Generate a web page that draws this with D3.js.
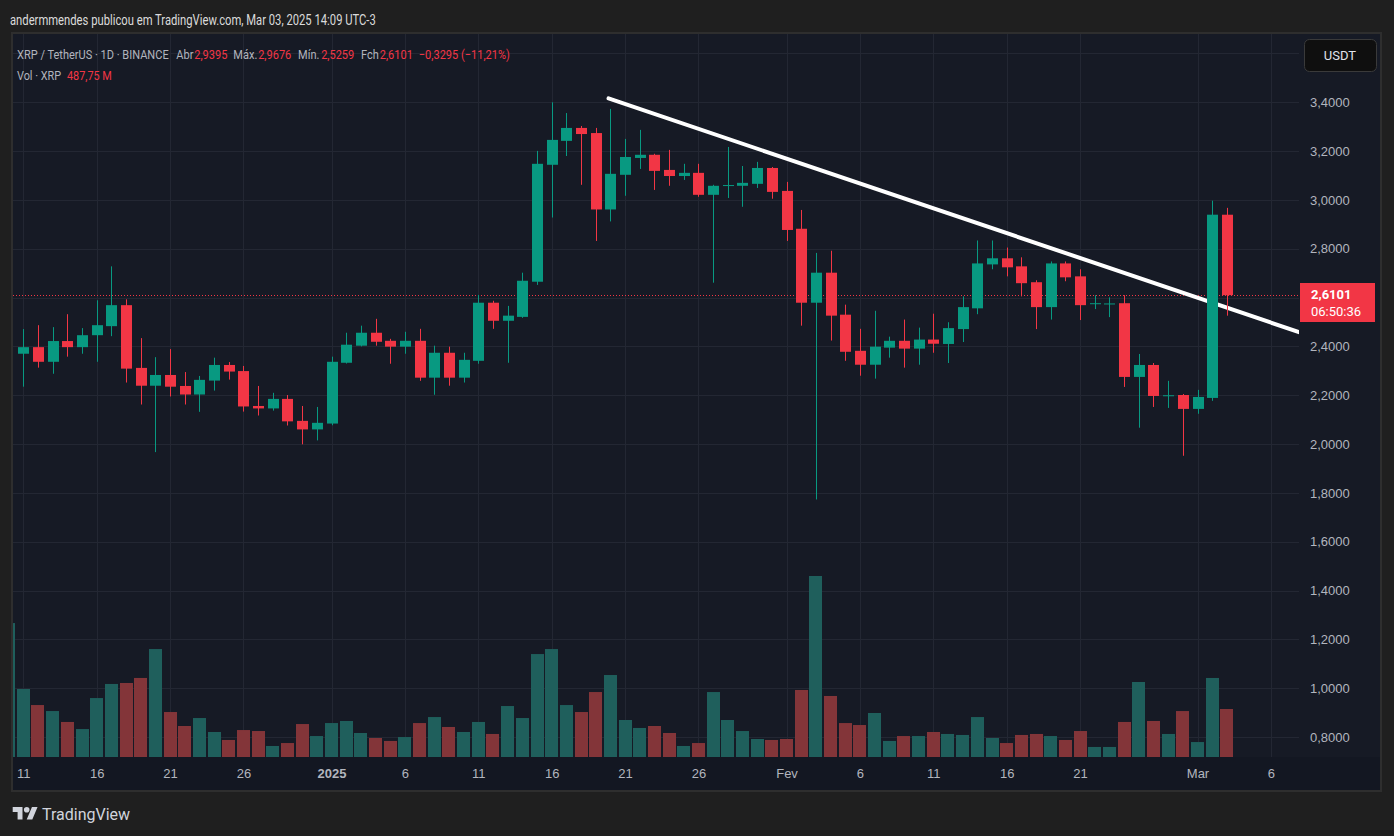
<!DOCTYPE html>
<html>
<head>
<meta charset="utf-8">
<script src="https://cdn.jsdelivr.net/npm/d3@7"></script>
<style>
  html, body { margin: 0; padding: 0; background: #1f1f1f; }
  svg { display: block; font-family: Roboto, "Liberation Sans", sans-serif; }
</style>
</head>
<body>
<svg id="chart" width="1394" height="836"></svg>
<script>
// XRP / TetherUS 1D BINANCE, Dec 10 2024 -> Mar 3 2025
const firstDay = '2024-12-10';
const lastDay = '2025-03-03';

const open = [2.185, 2.370, 2.397, 2.337, 2.422, 2.397, 2.446, 2.483, 2.569, 2.312, 2.239, 2.283, 2.238, 2.203, 2.260, 2.324, 2.299, 2.156, 2.146, 2.185, 2.095, 2.060,
  2.084, 2.333, 2.403, 2.456, 2.423, 2.399, 2.423, 2.272, 2.374, 2.272, 2.341, 2.579, 2.505, 2.521, 2.665, 3.144, 3.242, 3.295, 3.274, 2.961, 3.103, 3.172, 3.185, 3.123, 3.098, 3.111, 3.021, 3.058, 3.058, 3.066, 3.131,
  3.037, 2.882, 2.579, 2.702, 2.530, 2.382, 2.325, 2.395, 2.423, 2.391, 2.428, 2.410, 2.471, 2.556, 2.736, 2.761, 2.728, 2.663, 2.561, 2.740, 2.687, 2.575, 2.574, 2.577, 2.275, 2.324, 2.198, 2.201,
  2.144, 2.189, 2.9395];
const high = [2.440, 2.471, 2.487, 2.479, 2.532, 2.475, 2.589, 2.728, 2.593, 2.434, 2.356, 2.389, 2.295, 2.279, 2.354, 2.336, 2.320, 2.238, 2.210, 2.201, 2.156, 2.152,
  2.358, 2.456, 2.485, 2.513, 2.431, 2.460, 2.472, 2.403, 2.399, 2.374, 2.611, 2.587, 2.566, 2.702, 3.201, 3.400, 3.356, 3.303, 3.295, 3.373, 3.250, 3.287, 3.189, 3.205, 3.148, 3.148, 3.062, 3.217, 3.139, 3.156, 3.135,
  3.074, 2.959, 2.783, 2.792, 2.571, 2.472, 2.546, 2.440, 2.510, 2.477, 2.534, 2.499, 2.605, 2.834, 2.834, 2.805, 2.765, 2.671, 2.748, 2.748, 2.716, 2.610, 2.601, 2.610, 2.369, 2.332, 2.259, 2.205,
  2.222, 2.997, 2.9676];
const low = [2.070, 2.235, 2.313, 2.288, 2.358, 2.370, 2.337, 2.442, 2.252, 2.162, 1.967, 2.195, 2.162, 2.132, 2.219, 2.264, 2.133, 2.117, 2.137, 2.076, 1.999, 2.015,
  2.077, 2.330, 2.400, 2.403, 2.329, 2.370, 2.259, 2.202, 2.239, 2.252, 2.329, 2.472, 2.333, 2.517, 2.652, 2.928, 3.180, 3.062, 2.832, 2.912, 3.017, 3.127, 3.041, 3.058, 3.082, 3.013, 2.661, 3.008, 2.972, 3.049, 3.005,
  2.832, 2.485, 1.773, 2.424, 2.341, 2.280, 2.268, 2.354, 2.313, 2.325, 2.374, 2.332, 2.418, 2.532, 2.716, 2.687, 2.605, 2.471, 2.510, 2.667, 2.508, 2.553, 2.520, 2.234, 2.067, 2.152, 2.148, 1.952,
  2.124, 2.177, 2.5259];
const close = [2.370, 2.397, 2.337, 2.422, 2.397, 2.446, 2.487, 2.569, 2.309, 2.239, 2.283, 2.235, 2.203, 2.263, 2.324, 2.297, 2.154, 2.146, 2.185, 2.093, 2.060, 2.087,
  2.337, 2.407, 2.456, 2.419, 2.399, 2.423, 2.272, 2.374, 2.272, 2.345, 2.579, 2.505, 2.526, 2.669, 3.148, 3.246, 3.295, 3.270, 2.961, 3.107, 3.176, 3.185, 3.119, 3.098, 3.111, 3.021, 3.058, 3.061, 3.070, 3.131, 3.033,
  2.877, 2.579, 2.702, 2.526, 2.378, 2.325, 2.399, 2.423, 2.391, 2.428, 2.411, 2.475, 2.561, 2.740, 2.761, 2.724, 2.659, 2.561, 2.740, 2.683, 2.569, 2.577, 2.576, 2.275, 2.324, 2.197, 2.200, 2.144,
  2.193, 2.9396, 2.6101];
// volume in millions of XRP
const volume = [1361, 691, 528, 467, 356, 284, 599, 742, 752, 803, 1097, 457, 315, 396, 254, 173, 274, 264, 112, 142, 335, 213,
  345, 366, 244, 193, 163, 203, 345, 406, 305, 254, 356, 234, 518, 396, 1046, 1097, 528, 457, 660, 833, 376, 295, 315, 244, 112, 142, 660, 376, 264, 183, 173,
  183, 681, 1839, 620, 345, 325, 447, 163, 213, 213, 254, 234, 224, 406, 193, 142, 224, 234, 213, 173, 264, 102, 102, 356, 762, 366, 234, 467,
  152, 803, 487.75];

const xTickDates = ['2024-12-11', '2024-12-16', '2024-12-21', '2024-12-26', '2025-01-01', '2025-01-06', '2025-01-11', '2025-01-16', '2025-01-21', '2025-01-26',
  '2025-02-01', '2025-02-06', '2025-02-11', '2025-02-16', '2025-02-21', '2025-03-01', '2025-03-06'];
const xTickLabels = ['11', '16', '21', '26', '2025', '6', '11', '16', '21', '26', 'Fev', '6', '11', '16', '21', 'Mar', '6'];
const priceTicks = [3.4, 3.2, 3.0, 2.8, 2.6, 2.4, 2.2, 2.0, 1.8, 1.6, 1.4, 1.2, 1.0, 0.8];
const priceGrid = [3.6].concat(priceTicks);

// hand drawn trend line (two anchor points)
const trendDates = ['2025-01-19T21:00:00Z', '2025-03-08T00:00:00Z'];
const trendPrices = [3.416, 2.457];

const countdown = '06:50:36';

const GREEN = '#089981';
const RED = '#f23645';
const VOL_GREEN = '#1f5f5c';
const VOL_RED = '#833539';
const TEXT = '#b2b5be';
const GRID = '#232733';

const svg = d3.select('#chart');
const parseDay = d3.utcParse('%Y-%m-%d');
const pt = d3.formatLocale({decimal: ',', thousands: '.', grouping: [3], currency: ['', '']});
const f4 = pt.format('.4f');
const f2 = pt.format('.2f');

const plot = {left: 13, right: 1299, top: 34, bottom: 757};

const days = d3.utcDay.range(parseDay(firstDay), d3.utcDay.offset(parseDay(lastDay), 1));
const candles = days.map((d, i) => ({date: d, o: open[i], h: high[i], l: low[i], c: close[i], v: volume[i]}));

const x = d3.scaleUtc()
  .domain([parseDay('2024-12-11'), parseDay('2025-03-01')])
  .range([23.3, 1197.5]);
const y = d3.scaleLinear().domain([0.8, 3.4]).range([737, 102.3]);
const yVol = d3.scaleLinear().domain([0, d3.max(volume)]).range([plot.bottom, 576]);

// panel
svg.append('rect').attr('x', 0).attr('y', 0).attr('width', 1394).attr('height', 836).attr('fill', '#1f1f1f');
svg.append('rect')
  .attr('x', 12).attr('y', 33).attr('width', 1369).attr('height', 758)
  .attr('fill', '#161a25').attr('stroke', '#2e2e2e').attr('stroke-width', 2);
svg.append('rect')
  .attr('x', 13).attr('y', plot.bottom).attr('width', 1367).attr('height', 33)
  .attr('fill', '#131722');

const defs = svg.append('defs');
defs.append('clipPath').attr('id', 'plotClip')
  .append('rect')
  .attr('x', plot.left).attr('y', plot.top)
  .attr('width', plot.right - plot.left).attr('height', plot.bottom - plot.top);
defs.append('clipPath').attr('id', 'candleClip')
  .append('rect')
  .attr('x', plot.left + 2).attr('y', plot.top)
  .attr('width', plot.right - plot.left - 2).attr('height', plot.bottom - plot.top);

// grid
const grid = svg.append('g').attr('class', 'grid');
grid.selectAll('line.v')
  .data(xTickDates)
  .enter().append('line')
  .attr('class', 'v')
  .attr('x1', d => Math.round(x(parseDay(d))) + 0.5)
  .attr('x2', d => Math.round(x(parseDay(d))) + 0.5)
  .attr('y1', plot.top)
  .attr('y2', plot.bottom)
  .attr('stroke', GRID);
grid.selectAll('line.h')
  .data(priceGrid)
  .enter().append('line')
  .attr('class', 'h')
  .attr('x1', plot.left)
  .attr('x2', plot.right)
  .attr('y1', d => Math.round(y(d)) + 0.5)
  .attr('y2', d => Math.round(y(d)) + 0.5)
  .attr('stroke', GRID);

const chart = svg.append('g').attr('clip-path', 'url(#plotClip)');

// volume bars
chart.append('g').selectAll('rect')
  .data(candles)
  .enter().append('rect')
  .attr('x', d => Math.round(x(d.date) - 6.5))
  .attr('width', 13)
  .attr('y', d => yVol(d.v))
  .attr('height', d => plot.bottom - yVol(d.v))
  .attr('fill', d => d.c >= d.o ? VOL_GREEN : VOL_RED);

// candles
const cells = svg.append('g').attr('clip-path', 'url(#candleClip)')
  .selectAll('g')
  .data(candles)
  .enter().append('g');

cells.append('line')
  .attr('x1', d => Math.round(x(d.date)) + 0.5)
  .attr('x2', d => Math.round(x(d.date)) + 0.5)
  .attr('y1', d => y(d.h))
  .attr('y2', d => y(d.l))
  .attr('stroke', d => d.c >= d.o ? GREEN : RED)
  .attr('stroke-width', 1);

cells.append('rect')
  .attr('x', d => Math.round(x(d.date)) - 5)
  .attr('width', 11)
  .attr('y', d => y(Math.max(d.o, d.c)))
  .attr('height', d => Math.max(1, Math.abs(y(d.o) - y(d.c))))
  .attr('fill', d => d.c >= d.o ? GREEN : RED);

// last price dotted line
const last = candles[candles.length - 1];
const prev = candles[candles.length - 2];
const lastY = Math.round(y(last.c));
chart.append('line')
  .attr('x1', plot.left).attr('x2', plot.right)
  .attr('y1', lastY + 0.5).attr('y2', lastY + 0.5)
  .attr('stroke', RED)
  .attr('stroke-dasharray', '1 2');

// trend line
const trend = trendDates.map((d, i) => [x(d3.isoParse(d)), y(trendPrices[i])]);
chart.append('path')
  .attr('d', d3.line()(trend))
  .attr('fill', 'none')
  .attr('stroke', '#ffffff')
  .attr('stroke-width', 4)
  .attr('stroke-linecap', 'round');

// price axis (labels under the last price tag are hidden, as on the platform)
const yAxis = svg.append('g')
  .attr('transform', 'translate(' + plot.right + ',0)')
  .call(d3.axisRight(y)
    .tickValues(priceTicks.filter(p => Math.abs(y(p) - lastY) > 26))
    .tickSize(0).tickPadding(11).tickFormat(f4));
yAxis.select('.domain').remove();
yAxis.selectAll('text')
  .attr('fill', TEXT)
  .style('font-size', '13px');

// time axis
const xAxis = svg.append('g')
  .attr('transform', 'translate(0,' + plot.bottom + ')')
  .call(d3.axisBottom(x)
    .tickValues(xTickDates.map(parseDay))
    .tickSize(0)
    .tickPadding(12)
    .tickFormat((d, i) => xTickLabels[i]));
xAxis.select('.domain').remove();
xAxis.selectAll('text')
  .attr('fill', TEXT)
  .style('font-size', '13px')
  .style('font-weight', (d, i) => xTickLabels[i] === '2025' ? 'bold' : 'normal');

// last price label
svg.append('rect')
  .attr('x', 1300).attr('y', lastY - 12)
  .attr('width', 75).attr('height', 39)
  .attr('fill', RED);
svg.append('text')
  .attr('x', 1311).attr('y', lastY + 3.5)
  .attr('fill', '#ffffff')
  .style('font-size', '13px').style('font-weight', 'bold')
  .text(f4(last.c));
svg.append('text')
  .attr('x', 1311).attr('y', lastY + 21)
  .attr('fill', '#ffffff')
  .style('font-size', '13px')
  .text(countdown);

// currency button
svg.append('rect')
  .attr('x', 1304.5).attr('y', 39.5).attr('width', 72).attr('height', 32).attr('rx', 5)
  .attr('fill', '#0f0f0f').attr('stroke', '#3a3a3a');
svg.append('text')
  .attr('x', 1340).attr('y', 59.5)
  .attr('text-anchor', 'middle')
  .attr('fill', '#e0e3eb')
  .style('font-size', '13px')
  .text('USDT');

// text row squeezed horizontally to the narrow platform font
// parts: [text, colour, gap before]
function textRow(parts, x0, baseline, width, size) {
  const g = svg.append('g');
  const t = g.append('text').attr('x', 0).attr('y', baseline).style('font-size', size + 'px');
  parts.forEach(p => t.append('tspan').attr('dx', p[2]).attr('fill', p[1]).text(p[0]));
  const w = t.node().getBBox().width;
  g.attr('transform', 'translate(' + x0 + ',0) scale(' + (width / w) + ',1)');
}

// header
textRow([['andermmendes publicou em TradingView.com, Mar 03, 2025 14:09 UTC-3', '#dbdbdb', 0]], 10, 25, 366, 14);

// legend
const change = last.c - prev.c;
textRow([
  ['XRP / TetherUS · 1D · BINANCE', TEXT, 0],
  ['Abr', TEXT, 9], [f4(last.o), RED, 1],
  ['Máx.', TEXT, 7], [f4(last.h), RED, 1],
  ['Mín.', TEXT, 8], [f4(last.l), RED, 2],
  ['Fch', TEXT, 8], [f4(last.c), RED, 1],
  [f4(change) + ' (' + f2(change / prev.c * 100) + '%)', RED, 7]
], 17, 59, 493, 13);
textRow([
  ['Vol · XRP', TEXT, 0],
  [f2(last.v) + ' M', RED, 7]
], 17, 80, 95, 13);

// TradingView footer
const logo = svg.append('g')
  .attr('transform', 'translate(12.7,804.2) scale(0.7)')
  .attr('fill', '#d1d4dc');
logo.append('path').attr('d', 'M14 22H7V11H0V4h14v18zM28 22h-8l7.5-18h8L28 22z');
logo.append('circle').attr('cx', 20).attr('cy', 8).attr('r', 4);
svg.append('text')
  .attr('x', 42).attr('y', 820)
  .attr('fill', '#d1d4dc')
  .style('font-size', '16px')
  .text('TradingView');
</script>
</body>
</html>
